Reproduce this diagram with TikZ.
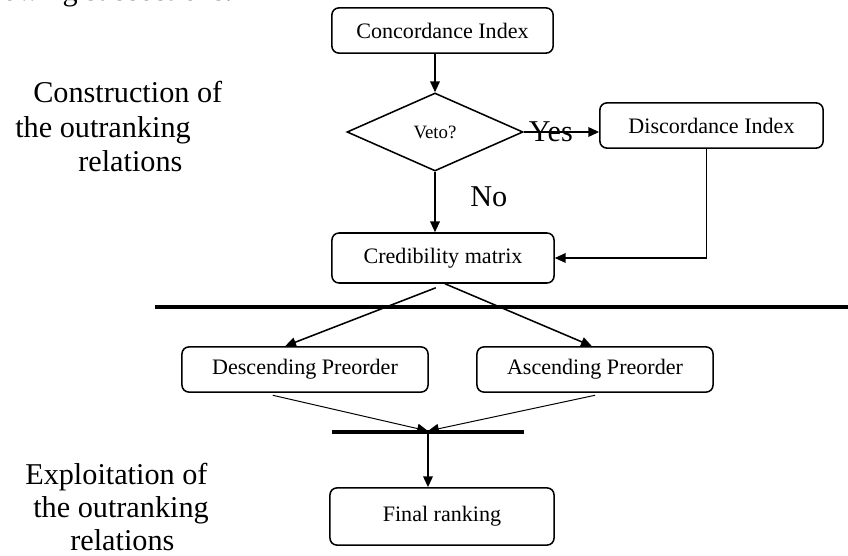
\documentclass[tikz,border=0pt]{standalone}
\usepackage{fontspec}
\setmainfont{Liberation Serif}
\usetikzlibrary{shapes.geometric,arrows.meta,calc,positioning}

\tikzset{
  stepbox/.style={draw, rounded corners=5pt, line width=1.1pt, inner sep=0pt,
    font=\fontsize{15.7}{18}\selectfont},
  sidetext/.style={anchor=base west, inner sep=0pt, font=\fontsize{21.5}{24}\selectfont},
  flow/.style={line width=1.1pt, -{Triangle[length=0.27cm, width=0.24cm]}},
  thinflow/.style={line width=0.7pt, -{Triangle[length=0.27cm, width=0.24cm]}}
}

\begin{document}
\begin{tikzpicture}[x=0.025cm, y=-0.025cm]
\clip (0,0) rectangle (848,556);

%text from the page above
\node[sidetext] (cut) at (-40,1) {following subsections.};

%left labels
\node[sidetext] (cons1) at (33,103) {Construction of};
\node[sidetext] (cons2) at (15,138) {the outranking};
\node[sidetext] (cons3) at (78,172) {relations};
\node[sidetext] (expl1) at (25,484) {Exploitation of};
\node[sidetext] (expl2) at (33,517) {the outranking};
\node[sidetext] (expl3) at (70,550) {relations};

%construction
\node[stepbox, minimum width=5.53cm, minimum height=1.13cm] (concord) at (442.5,30.5) {Concordance Index};
\node[draw, diamond, line width=1.1pt, inner sep=0pt, minimum width=4.4cm, minimum height=1.95cm,
  font=\fontsize{13.4}{16}\selectfont] (veto) at (435,132) {Veto?};
\node[stepbox, minimum width=5.58cm, minimum height=1.13cm] (discord) at (711.5,125.5) {Discordance Index};
\node[stepbox, minimum width=5.55cm, minimum height=1.25cm] (cred) at (443,258) {Credibility matrix};

\draw[flow] (veto.north |- concord.south) -- (veto.north);
\draw[flow] (veto.east) -- (veto.east -| discord.west)
  node[pos=0.36, inner sep=0pt, font=\fontsize{21.5}{24}\selectfont] (yes) {Yes};
\draw[flow] (veto.south) -- (veto.south |- cred.north);
\node[sidetext] (no) at (470,207) {No};
\draw[flow] ([xshift=-0.12cm]discord.south) |- (cred.east);

%separator
\draw[line width=2.6pt] (155,307) -- (848,307);

%exploitation
\node[stepbox, minimum width=6.15cm, minimum height=1.13cm] (desc) at (305,369.5) {Descending Preorder};
\node[stepbox, minimum width=5.9cm, minimum height=1.13cm] (asc) at (595,369.5) {Ascending Preorder};
\node[stepbox, minimum width=5.6cm, minimum height=1.43cm] (final) at (442,516.5) {Final ranking};

\draw[flow] ([xshift=-0.18cm, yshift=-0.1cm]cred.south) -- ($(desc.north west)!0.42!(desc.north east)$);
\draw[flow] ([xshift=0.05cm]cred.south) -- ([xshift=-0.08cm]asc.north);

%meeting bar
\coordinate (meet) at (428,431);
\draw[line width=3pt] (332,432) -- (524,432);
\draw[thinflow] ([yshift=-0.06cm]$(desc.south west)!0.37!(desc.south east)$) -- (meet);
\draw[thinflow] ([yshift=-0.06cm]asc.south) -- (meet);
\draw[flow] (meet) -- (meet |- final.north);
\end{tikzpicture}
\end{document}
